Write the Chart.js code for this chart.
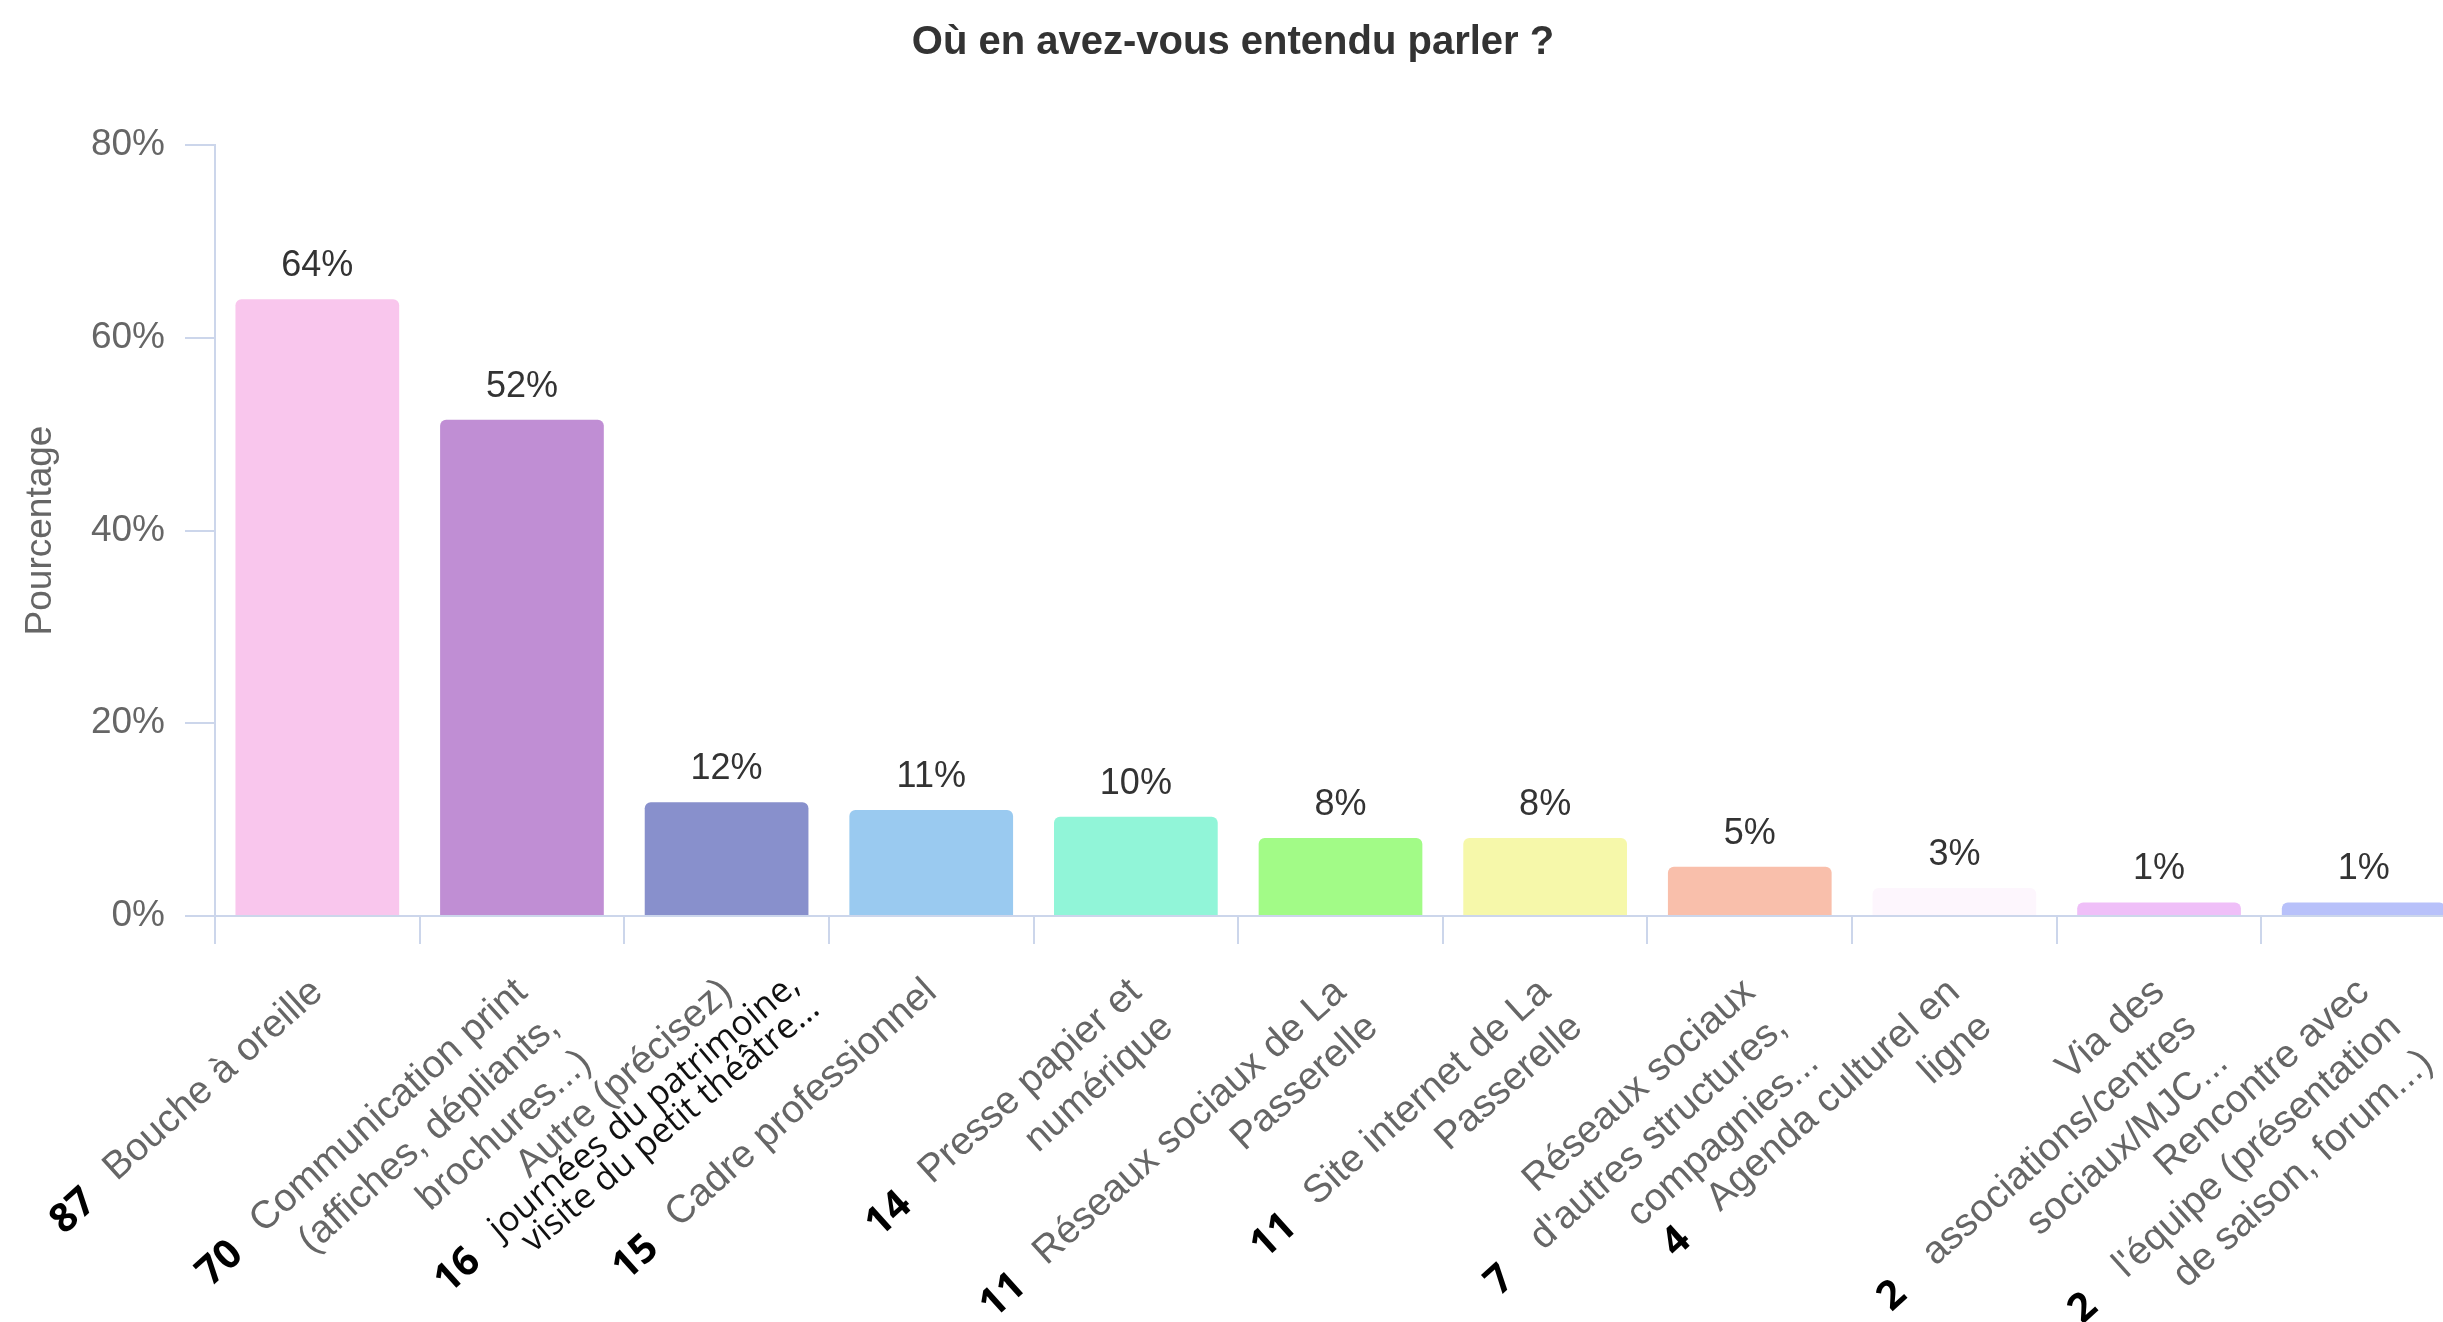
<!DOCTYPE html>
<html lang="fr">
<head>
<meta charset="utf-8">
<title>Où en avez-vous entendu parler ?</title>
<script src="https://cdn.jsdelivr.net/npm/chart.js@4.4.1/dist/chart.umd.min.js"></script>
<style>
  html, body { margin: 0; padding: 0; background: #fff; overflow: hidden; }
  #wrap { position: absolute; left: 0; top: 0; width: 2466px; height: 1322px; }
</style>
</head>
<body>
<div id="wrap"><canvas id="barChart"></canvas></div>
<script>
// ─── Données ────────────────────────────────────────────────────────────────

const categories = [
  ['Bouche à oreille'],
  ['Communication print', '(affiches, dépliants,', 'brochures...)'],
  ['Autre (précisez)'],
  ['Cadre professionnel'],
  ['Presse papier et', 'numérique'],
  ['Réseaux sociaux de La', 'Passerelle'],
  ['Site internet de La', 'Passerelle'],
  ['Réseaux sociaux', "d'autres structures,", 'compagnies...'],
  ['Agenda culturel en', 'ligne'],
  ['Via des', 'associations/centres', 'sociaux/MJC...'],
  ['Rencontre avec', "l'équipe (présentation", 'de saison, forum...)'],
];

// pourcentage de répondants
const pourcentages = [64.0, 51.5, 11.8, 11.0, 10.3, 8.1, 8.1, 5.1, 2.9, 1.4, 1.4];

// nombre de réponses, ajouté à la main sous chaque catégorie
const effectifs = [87, 70, 16, 15, 14, 11, 11, 7, 4, 2, 2];

// précisions notées sous "Autre (précisez)"
const precisionsAutre = ['journées du patrimoine,', 'visite du petit théâtre...'];

const couleurs = [
  '#f9c6ed', '#c08ed4', '#8890cc', '#9acaf0', '#91f5d8', '#a2fb87',
  '#f6f8aa', '#f9bfab', '#fdf6fd', '#efbff8', '#b8c1fa',
];

const yTicks = [0, 20, 40, 60, 80];

// ─── Mise en forme ──────────────────────────────────────────────────────────

const FONT = '"Liberation Sans", Arial, Helvetica, sans-serif';
const X_FONT = 39;
const X_LH = 1.22;
const X_TICK = 28;
const X_PAD = 25;
const X_ROT = 42;
const AXE = '#ccd6eb';

Chart.defaults.font.family = FONT;

const indexAutre = categories.findIndex(l => l[0].startsWith('Autre'));

// Étiquettes de valeurs, effectifs et précisions
const etiquettesPlugin = {
  id: 'etiquettes',
  afterDatasetsDraw(chart) {
    const { ctx } = chart;
    const meta = chart.getDatasetMeta(0);
    ctx.save();
    ctx.font = `36px ${FONT}`;
    ctx.fillStyle = '#333';
    ctx.textAlign = 'center';
    ctx.textBaseline = 'middle';
    meta.data.forEach((bar, i) => {
      ctx.fillText(Math.round(pourcentages[i]) + '%', bar.x, bar.y - 33);
    });
    ctx.restore();
  },
  afterDraw(chart) {
    const { ctx, scales: { x } } = chart;
    const lh = X_FONT * X_LH;
    const rot = X_ROT * Math.PI / 180;

    categories.forEach((lignes, i) => {
      // même ancrage que les étiquettes de Chart.js
      const ax = x.getPixelForTick(i) - (lh / 2) * Math.sin(rot);
      const ay = x.top + X_TICK + X_PAD;
      ctx.save();
      ctx.translate(ax, ay);
      ctx.rotate(-rot);

      ctx.font = `${X_FONT}px ${FONT}`;
      const rangs = lignes.map((t, j) => ({ debut: -ctx.measureText(t).width, y: lh / 2 + j * lh }));

      // texte ajouté à la main, un peu moins incliné
      if (i === indexAutre) {
        const inc = 2 * Math.PI / 180;
        ctx.save();
        ctx.translate(55, 65);
        ctx.rotate(inc);
        ctx.font = '35px "Open Sans", sans-serif';
        ctx.fillStyle = '#111';
        ctx.textAlign = 'right';
        ctx.textBaseline = 'middle';
        precisionsAutre.forEach((t, j) => {
          const w = ctx.measureText(t).width;
          ctx.fillText(t, 0, 31 * j);
          rangs.push({ debut: 55 - w * Math.cos(inc), y: 65 + 31 * j - w * Math.sin(inc) });
        });
        ctx.restore();
      }

      const large = rangs.reduce((a, b) => (b.debut < a.debut ? b : a));
      ctx.font = 'bold 40px "Open Sans", sans-serif';
      ctx.fillStyle = '#000';
      ctx.textAlign = 'center';
      ctx.textBaseline = 'middle';
      ctx.fillText(String(effectifs[i]), large.debut - 52, large.y + 4);
      ctx.restore();
    });
  }
};

// ─── Graphique ──────────────────────────────────────────────────────────────

const ctx = document.getElementById('barChart').getContext('2d');

new Chart(ctx, {
  type: 'bar',
  data: {
    labels: categories,
    datasets: [{
      label: 'Pourcentage',
      data: pourcentages,
      backgroundColor: couleurs,
      borderRadius: 6,
      borderSkipped: 'start',
      barPercentage: 0.8,
      categoryPercentage: 1,
    }]
  },
  options: {
    responsive: true,
    maintainAspectRatio: false,
    animation: false,
    devicePixelRatio: 1,
    layout: { padding: 0 },
    plugins: {
      legend: { display: false },
      tooltip: { enabled: false },
      title: {
        display: true,
        text: 'Où en avez-vous entendu parler ?',
        color: '#333',
        font: { size: 40, weight: 'bold' },
        padding: { top: 19, bottom: 78 },
      },
    },
    scales: {
      y: {
        min: 0,
        max: 80,
        afterBuildTicks: s => { s.ticks = yTicks.map(v => ({ value: v })); },
        afterFit: s => { s.width = 215; },
        border: { display: true, color: AXE, width: 2 },
        grid: { drawOnChartArea: false, drawTicks: true, tickLength: 30, color: AXE, lineWidth: 2 },
        ticks: { padding: 20, color: '#666', font: { size: 37 }, callback: v => v + '%' },
        title: {
          display: true,
          text: 'Pourcentage',
          color: '#666',
          font: { size: 37 },
          padding: { top: 19, bottom: 0 },
        },
      },
      x: {
        afterFit: s => { s.height = 406; s.paddingLeft = 0; s.paddingRight = 0; },
        border: { display: true, color: AXE, width: 2 },
        grid: { drawOnChartArea: false, tickLength: X_TICK, color: AXE, lineWidth: 2, offset: true },
        ticks: {
          autoSkip: false,
          minRotation: X_ROT,
          maxRotation: X_ROT,
          padding: X_PAD,
          color: '#666',
          font: { size: X_FONT, lineHeight: X_LH },
        },
      },
    },
  },
  plugins: [etiquettesPlugin],
});
</script>
</body>
</html>
